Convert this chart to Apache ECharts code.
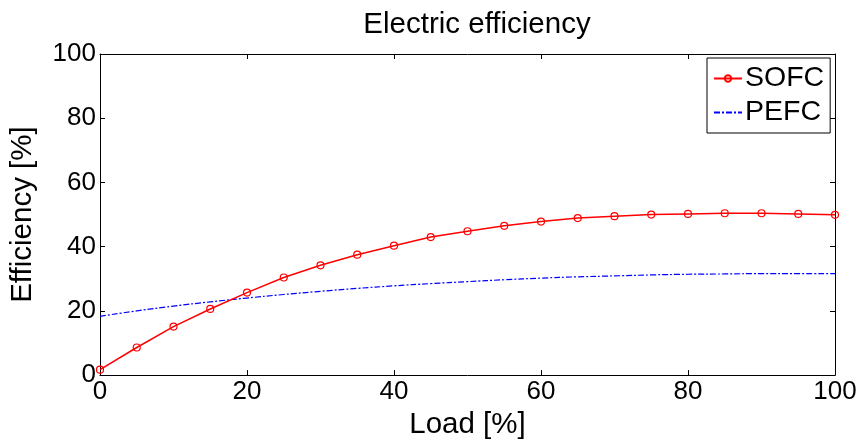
<!DOCTYPE html>
<html>
<head>
<meta charset="utf-8">
<script src="https://cdn.jsdelivr.net/npm/echarts@6/dist/echarts.min.js"></script>
<style>html,body{margin:0;padding:0;background:#fff;}#c{width:862px;height:445px;}</style>
</head>
<body>
<div id="c"></div>
<script>
const loads = [0,5,10,15,20,25,30,35,40,45,50,55,60,65,70,75,80,85,90,95,100];
const sofc = [1.7,8.6,15.1,20.6,25.7,30.4,34.2,37.5,40.3,43.0,44.8,46.5,47.8,48.9,49.5,50.0,50.2,50.4,50.4,50.2,49.9];
const pefc = [18.3,20.0,21.5,22.8,24.0,25.1,26.1,27.0,27.8,28.5,29.1,29.7,30.2,30.6,30.9,31.2,31.4,31.5,31.6,31.6,31.6];
const xTicks = [0,20,40,60,80,100];
const yTicks = [0,20,40,60,80,100];

const FONT = '"Liberation Sans", Arial, sans-serif';
const chart = echarts.init(document.getElementById('c'), null, {renderer:'canvas'});
const axLine = {show:true, onZero:false, lineStyle:{color:'#000', width:1}};
const tick = {show:true, inside:true, length:5, lineStyle:{color:'#000', width:1}};
chart.setOption({
  backgroundColor:'#fff',
  animation:false,
  title:{text:'Electric efficiency', left:472, textAlign:'center', top:5,
    textStyle:{fontFamily:FONT, fontSize:29.5, fontWeight:'normal', color:'#000'}},
  grid:{left:99, right:27, top:54, bottom:66, containLabel:false},
  legend:{orient:'vertical', left:707, top:58, padding:[6,6,6,6], itemGap:5,
    itemWidth:28, itemHeight:8, borderColor:'#000', borderWidth:1, backgroundColor:'#fff',
    textStyle:{fontFamily:FONT, fontSize:28.5, color:'#000', padding:[0,0,0,-2]},
    data:[{name:'SOFC'},{name:'PEFC', itemStyle:{opacity:0}}]},
  xAxis:[{type:'value', min:0, max:100, interval:20, position:'bottom',
    name:'Load [%]', nameLocation:'middle', nameGap:34,
    nameTextStyle:{fontFamily:FONT, fontSize:29.5, color:'#000'},
    axisLine:axLine, axisTick:tick, splitLine:{show:false},
    axisLabel:{fontFamily:FONT, fontSize:26, color:'#000', margin:4,
      formatter:v=>xTicks.includes(v)?String(v):''}},
   {type:'value', min:0, max:100, interval:20, position:'top',
    axisLine:axLine, axisTick:tick, splitLine:{show:false}, axisLabel:{show:false}}],
  yAxis:[{type:'value', min:0, max:100, interval:20, position:'left',
    name:'Efficiency [%]', nameLocation:'middle', nameGap:62,
    nameTextStyle:{fontFamily:FONT, fontSize:29.5, color:'#000'},
    axisLine:axLine, axisTick:tick, splitLine:{show:false},
    axisLabel:{fontFamily:FONT, fontSize:26, color:'#000', margin:4,
      formatter:v=>yTicks.includes(v)?String(v):''}},
   {type:'value', min:0, max:100, interval:20, position:'right',
    axisLine:axLine, axisTick:tick, splitLine:{show:false}, axisLabel:{show:false}}],
  series:[
    {name:'SOFC', type:'line', xAxisIndex:0, yAxisIndex:0,
     data:loads.map((x,i)=>[x,sofc[i]]),
     symbol:'circle', symbolSize:7, showSymbol:true,
     itemStyle:{color:'rgba(255,255,255,0)', borderColor:'#ff0000', borderWidth:1.2},
     lineStyle:{color:'#ff0000', width:1.5}, z:3},
    {name:'PEFC', type:'line', xAxisIndex:0, yAxisIndex:0,
     data:loads.map((x,i)=>[x,pefc[i]]), smooth:true,
     symbol:'none', showSymbol:false,
     itemStyle:{color:'#0000ff'},
     lineStyle:{color:'#0000ff', width:1.2, type:[6,2,2,2]}, z:2}
  ]
});
</script>
</body>
</html>
